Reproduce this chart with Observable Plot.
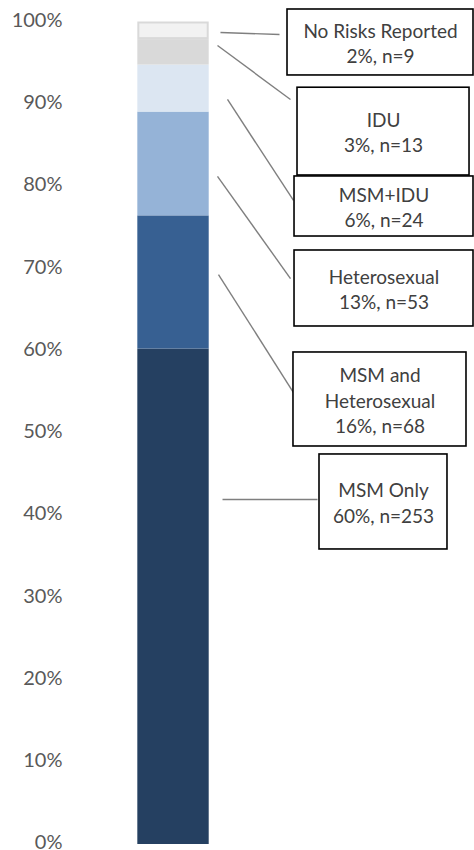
<!DOCTYPE html>
<html>
<head>
<meta charset="utf-8">
<script src="https://cdn.jsdelivr.net/npm/d3@7"></script>
<script src="https://cdn.jsdelivr.net/npm/@observablehq/plot@0.6"></script>
<style>
  html, body { margin: 0; padding: 0; background: #ffffff; }
  #chart svg { display: block; }
</style>
</head>
<body>
<div id="chart"></div>
<script>
// Transmission risk categories, bottom of the stack first
const categories = ["MSM Only", "MSM and Heterosexual", "Heterosexual", "MSM+IDU", "IDU", "No Risks Reported"];
const counts = [253, 68, 53, 24, 13, 9];
const colors = ["#254061", "#376092", "#95B3D7", "#DCE6F2", "#D9D9D9", "#F2F2F2"];
const yTicks = [0, 10, 20, 30, 40, 50, 60, 70, 80, 90, 100];

// Horizontal placement (x runs 0–100 across the page), bar spans barLeft–barRight
const barLeft = 28.97, barRight = 44.03;

// Callout boxes [x1, x2, yTop, yBottom] and leader lines [x1, y1, x2, y2],
// in x units and percent on y, same order as the categories
const callouts = [
  {box: [67.30, 94.30, 47.42, 35.87], line: [46.84, 41.95, 66.88, 41.95]},
  {box: [61.81, 98.31, 59.82, 48.39], line: [45.99, 69.30, 61.81, 54.95]},
  {box: [62.03, 99.79, 72.22, 62.98], line: [45.78, 81.22, 61.18, 68.81]},
  {box: [62.03, 99.79, 81.22, 73.92], line: [47.89, 90.58, 61.81, 78.30]},
  {box: [62.66, 98.95, 92.01, 81.34], line: [45.78, 97.14, 61.18, 90.58]},
  {box: [60.55, 99.79, 101.52, 93.50], line: [46.41, 98.72, 58.86, 98.48]}
];

const total = d3.sum(counts);
let cum = 0;
const rows = categories.map((category, i) => {
  const share = counts[i] / total * 100;
  const row = {
    category,
    n: counts[i],
    share,
    y1: cum,
    y2: cum + share,
    color: colors[i],
    label: `${category}\n${Math.round(share)}%, n=${counts[i]}`
  };
  cum += share;
  return row;
});
const topSegment = rows[rows.length - 1];
const boxes = rows.map((r, i) => {
  const [x1, x2, y1, y2] = callouts[i].box;
  const [lx1, ly1, lx2, ly2] = callouts[i].line;
  return {...r, bx1: x1, bx2: x2, by1: y1, by2: y2, lx1, ly1, lx2, ly2,
          cx: (x1 + x2) / 2, cy: (y1 + y2) / 2};
});

const font = "Lato, 'Open Sans', sans-serif";

const chart = Plot.plot({
  width: 474,
  height: 850,
  marginLeft: 70,
  marginRight: 0,
  marginTop: 21.5,
  marginBottom: 6,
  style: {fontFamily: font, background: "#ffffff"},
  x: {domain: [0, 100], range: [0, 474], axis: null},
  y: {domain: [0, 100], range: [844, 21.5]},
  color: {type: "identity"},
  marks: [
    Plot.axisY({
      ticks: yTicks,
      tickFormat: d => `${d}%`,
      tickSize: 0,
      tickPadding: 8,
      fontSize: 20,
      dy: -1.5,
      fill: "#595959",
      label: null
    }),
    // stacked bar
    Plot.rect(rows.slice(0, -1), {
      x1: () => barLeft, x2: () => barRight,
      y1: "y1", y2: "y2",
      fill: "color"
    }),
    Plot.rect([topSegment], {
      x1: () => barLeft, x2: () => barRight,
      y1: "y1", y2: "y2",
      fill: "color",
      stroke: "#D9D9D9",
      strokeWidth: 2,
      inset: 1
    }),
    // leader lines
    Plot.link(boxes, {
      x1: "lx1", y1: "ly1", x2: "lx2", y2: "ly2",
      stroke: "#7F7F7F",
      strokeWidth: 1.4
    }),
    // label boxes
    Plot.rect(boxes, {
      x1: "bx1", x2: "bx2", y1: "by1", y2: "by2",
      fill: "#ffffff",
      stroke: "#000000",
      strokeWidth: 1.6
    }),
    Plot.text(boxes, {
      x: "cx", y: "cy",
      text: "label",
      lineWidth: 9,
      lineHeight: 1.32,
      lineAnchor: "middle",
      textAnchor: "middle",
      fontSize: 19,
      fill: "#404040"
    })
  ]
});

document.getElementById("chart").appendChild(chart);
</script>
</body>
</html>
